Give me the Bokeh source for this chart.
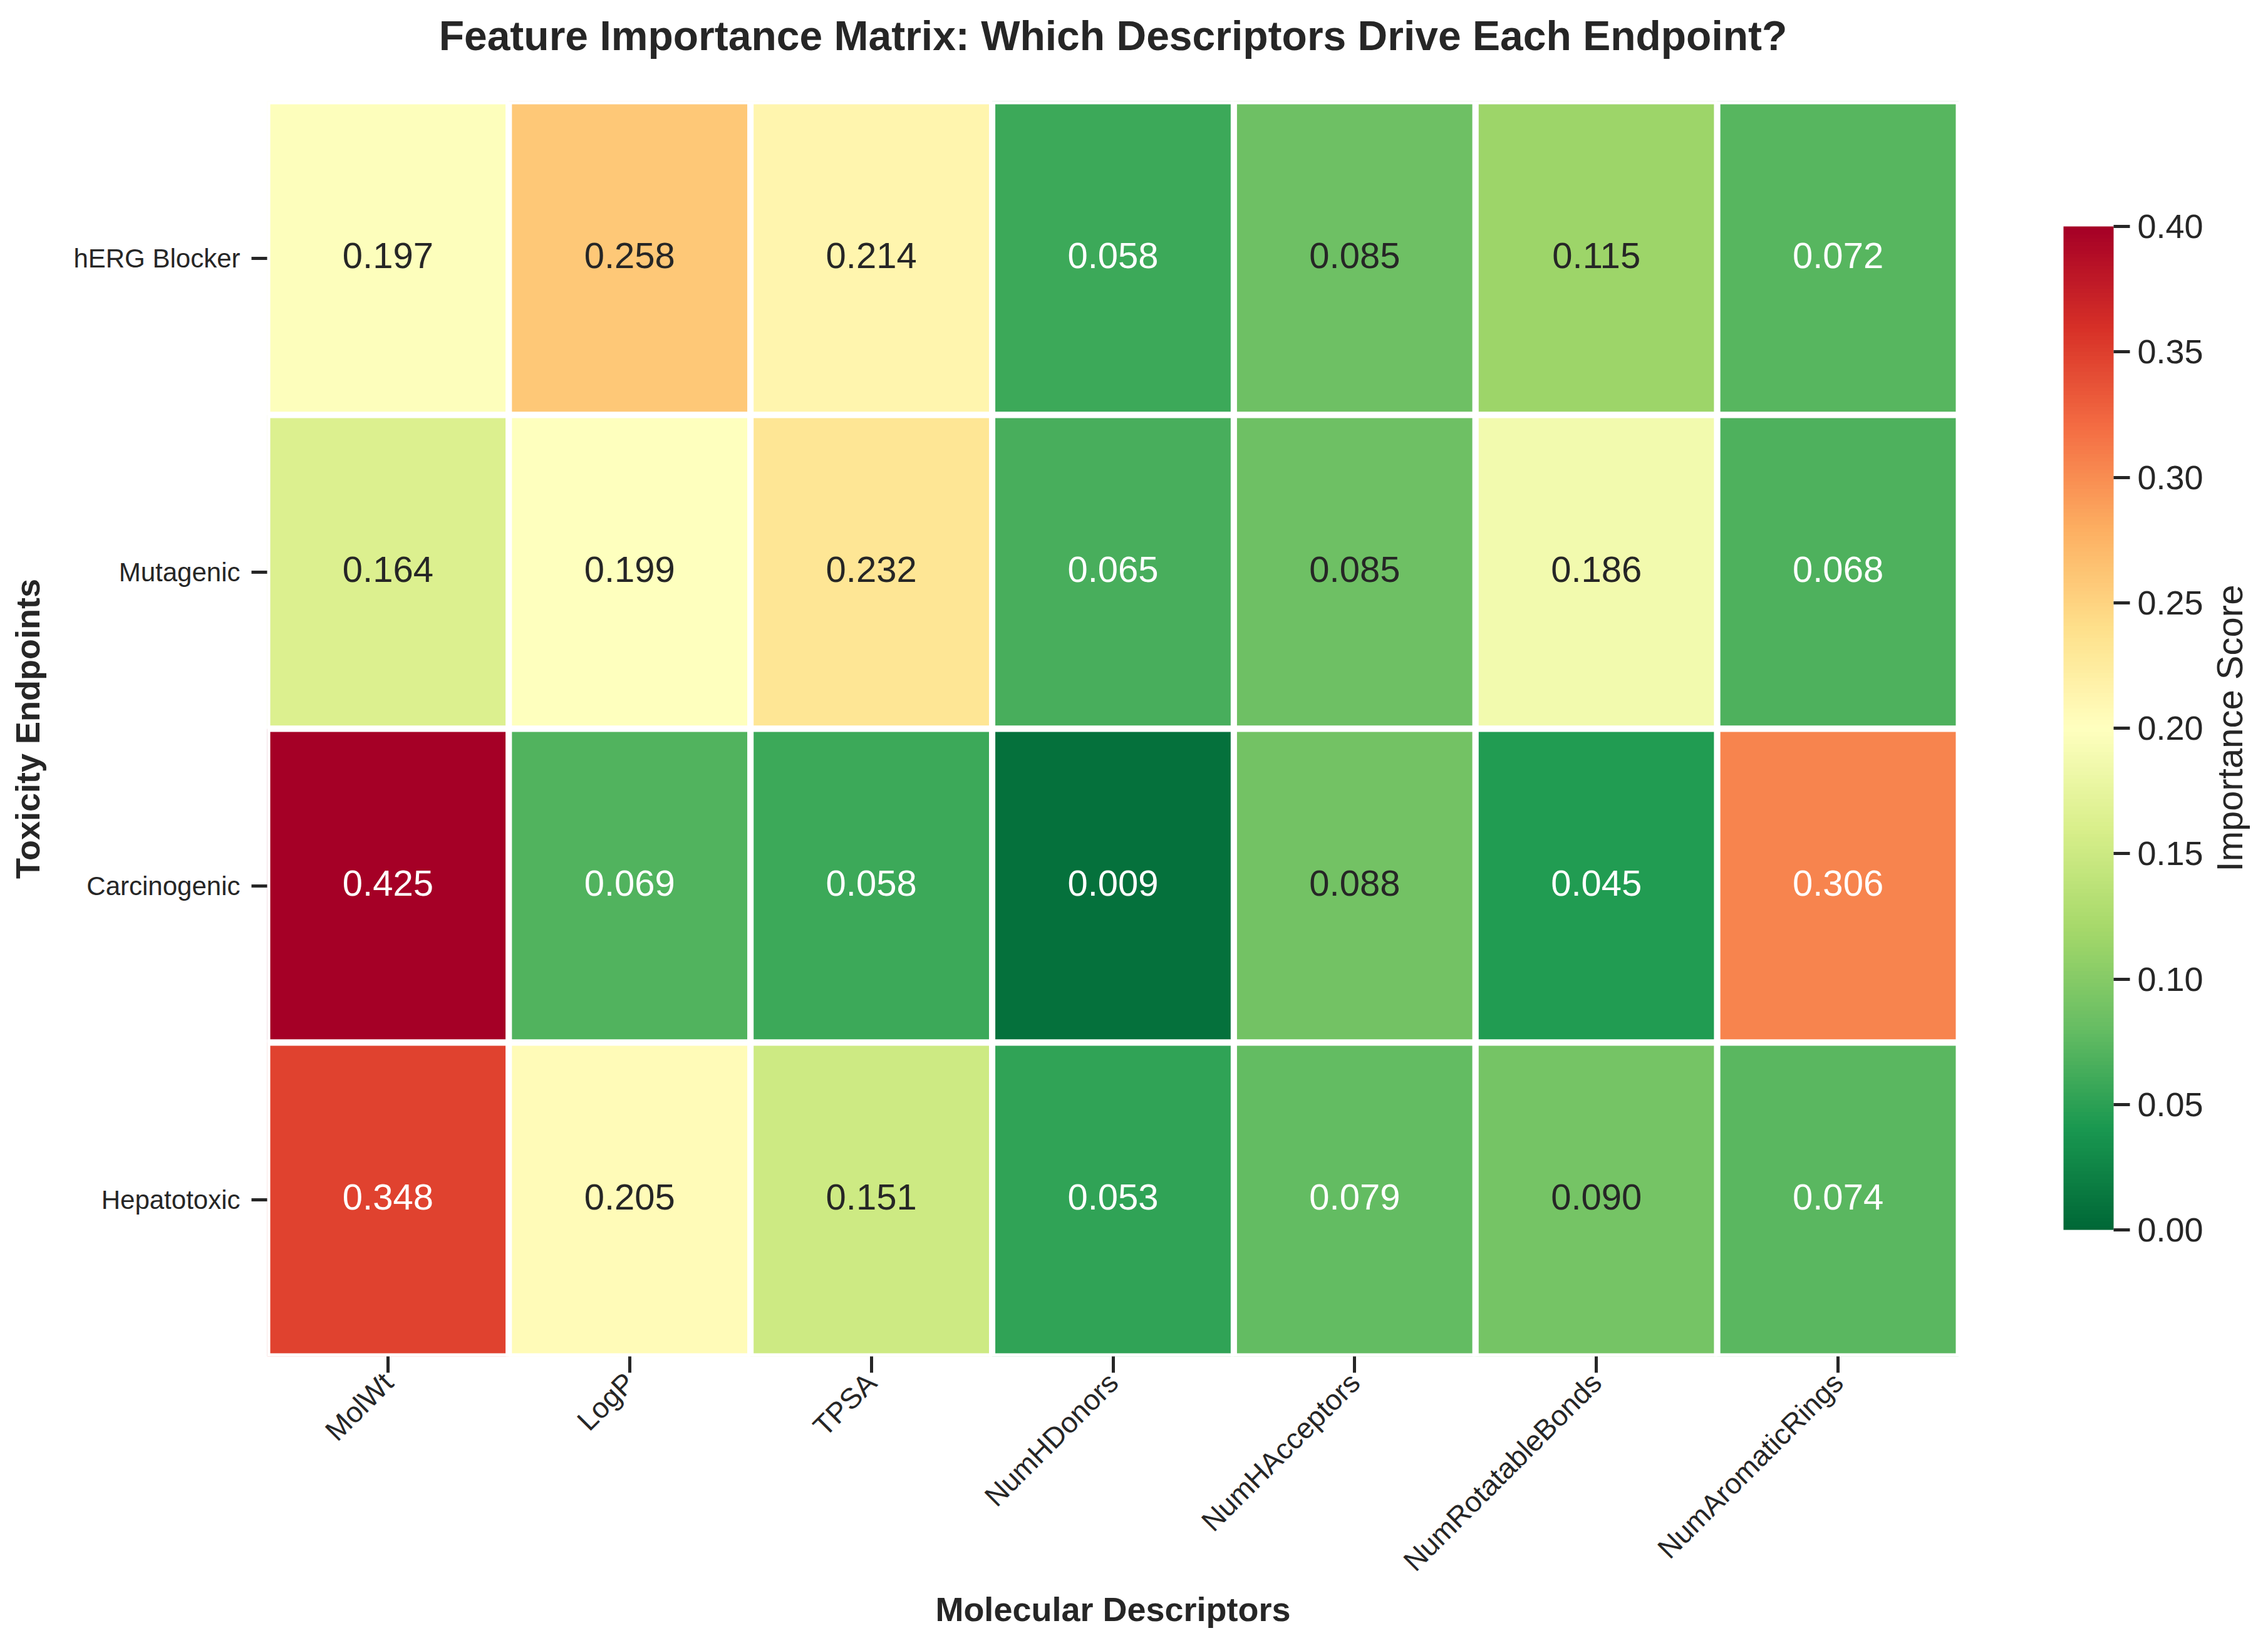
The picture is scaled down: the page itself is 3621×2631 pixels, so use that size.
import math
import numpy as np
from bokeh.plotting import figure
from bokeh.layouts import row
from bokeh.models import (ColumnDataSource, LinearColorMapper, ColorBar, FixedTicker,
                          PrintfTickFormatter, Range1d, Title)
from bokeh.transform import transform
from bokeh.core.properties import value
from bokeh.embed import file_html
from bokeh.resources import INLINE

# ---------------- data ----------------
endpoints = ["hERG Blocker", "Mutagenic", "Carcinogenic", "Hepatotoxic"]
descriptors = ["MolWt", "LogP", "TPSA", "NumHDonors", "NumHAcceptors",
               "NumRotatableBonds", "NumAromaticRings"]
herg_blocker = [0.197, 0.258, 0.214, 0.058, 0.085, 0.115, 0.072]
mutagenic = [0.164, 0.199, 0.232, 0.065, 0.085, 0.186, 0.068]
carcinogenic = [0.425, 0.069, 0.058, 0.009, 0.088, 0.045, 0.306]
hepatotoxic = [0.348, 0.205, 0.151, 0.053, 0.079, 0.090, 0.074]
colorbar_ticks = [0.00, 0.05, 0.10, 0.15, 0.20, 0.25, 0.30, 0.35, 0.40]
vmin, vmax = 0.0, 0.40
colorbar_title = "Importance Score"
main_title = "Feature Importance Matrix: Which Descriptors Drive Each Endpoint?"

rows = [herg_blocker, mutagenic, carcinogenic, hepatotoxic]

# RdYlGn reversed (green -> yellow -> red)
anchors = ["#006837", "#1a9850", "#66bd63", "#a6d96a", "#d9ef8b", "#ffffbf",
           "#fee08b", "#fdae61", "#f46d43", "#d73027", "#a50026"]


def hex2rgb(h):
    return [int(h[i:i + 2], 16) for i in (1, 3, 5)]


anc = np.array([hex2rgb(h) for h in anchors], dtype=float)
N = 256
palette_rgb = []
for i in range(N):
    t = i / (N - 1) * (len(anchors) - 1)
    k = min(int(math.floor(t)), len(anchors) - 2)
    f = t - k
    c = anc[k] * (1 - f) + anc[k + 1] * f
    palette_rgb.append(c)
palette = ["#%02x%02x%02x" % tuple(int(round(v)) for v in c) for c in palette_rgb]


def text_color_for(v):
    idx = int((v - vmin) / (vmax - vmin) * N)
    idx = max(0, min(N - 1, idx))
    rgb = palette_rgb[idx] / 255.0
    lin = np.where(rgb <= 0.03928, rgb / 12.92, ((rgb + 0.055) / 1.055) ** 2.4)
    lum = 0.2126 * lin[0] + 0.7152 * lin[1] + 0.0722 * lin[2]
    return "#262626" if lum > 0.408 else "#ffffff"


xs, ys, vals, labels, tcolors = [], [], [], [], []
for ep, r in zip(endpoints, rows):
    for d, v in zip(descriptors, r):
        xs.append(d)
        ys.append(ep)
        vals.append(v)
        labels.append("%.3f" % v)
        tcolors.append(text_color_for(v))

source = ColumnDataSource(dict(x=xs, y=ys, v=vals, label=labels, tc=tcolors))

FONT = "Liberation Sans"
DARK = "#262626"

W, H = 3621, 2631
FRAME_L, FRAME_R, FRAME_T, FRAME_B = 426, 3127, 161, 2165
W1 = FRAME_R  # main figure ends at the heatmap's right edge
p = figure(x_range=descriptors, y_range=list(reversed(endpoints)),
           width=W1, height=H, output_backend="svg", toolbar_location=None,
           min_border_left=FRAME_L, min_border_right=0,
           min_border_top=FRAME_T, min_border_bottom=H - FRAME_B)
p.background_fill_color = "white"
p.border_fill_color = "white"
p.outline_line_color = None
p.grid.grid_line_color = None

mapper = LinearColorMapper(palette=palette, low=vmin, high=vmax)

p.rect(x="x", y="y", width=1, height=1, source=source,
       fill_color=transform("v", mapper), line_color="white", line_width=10)
p.text(x="x", y="y", text="label", source=source, text_align="center",
       text_baseline="middle", text_font_size="58px", text_color="tc",
       text_font=value(FONT), y_offset=-4)

# real title (outermost) plus a blank spacer title between it and the frame
p.title.text = main_title
p.title.text_font = FONT
p.title.text_font_size = "66px"
p.title.text_font_style = "bold"
p.title.text_color = DARK
p.title.align = "center"
p.title.standoff = 0
p.add_layout(Title(text=" ", text_font_size="10px", standoff=55), "above")

# axes
for ax in (p.xaxis, p.yaxis):
    ax.axis_line_color = None
    ax.major_tick_in = 0
    ax.major_tick_line_color = DARK
    ax.major_tick_line_width = 5
    ax.major_label_text_font = FONT
    ax.major_label_text_color = DARK
    ax.axis_label_text_font = FONT
    ax.axis_label_text_font_style = "bold"
    ax.axis_label_text_font_size = "54px"
    ax.axis_label_text_color = DARK

p.yaxis.axis_label = "Toxicity Endpoints"
p.yaxis.major_tick_out = 25
p.yaxis.major_label_standoff = 18
p.yaxis.major_label_text_font_size = "42px"
p.yaxis.axis_label_standoff = 40

p.xaxis.axis_label = "Molecular Descriptors"
p.xaxis.major_tick_out = 26
p.xaxis.major_label_standoff = 8
p.xaxis.major_label_text_font_size = "46px"
p.xaxis.major_label_orientation = math.pi / 4
p.xaxis.axis_label_standoff = 0

# ---- colour bar figure on the right (its frame aligns with the heatmap's) ----
W2 = W - W1
FH = FRAME_B - FRAME_T
p2 = figure(width=W2, height=H, output_backend="svg", toolbar_location=None,
            x_range=Range1d(0, W2), y_range=Range1d(0, FH),
            x_axis_location=None, y_axis_location=None,
            min_border_left=0, min_border_right=0,
            min_border_top=FRAME_T, min_border_bottom=H - FRAME_B)
p2.outline_line_color = None
p2.grid.grid_line_color = None
p2.background_fill_color = "white"
p2.border_fill_color = "white"

cb = ColorBar(color_mapper=mapper, ticker=FixedTicker(ticks=colorbar_ticks),
              formatter=PrintfTickFormatter(format="%.2f"),
              width=80, height=1602, padding=0, margin=0,
              location=(3294 - W1, FRAME_B - 1963),
              major_tick_in=0, major_tick_out=26,
              major_tick_line_color=DARK, major_tick_line_width=5,
              minor_tick_line_color=None,
              major_label_text_font=FONT, major_label_text_font_size="54px",
              major_label_text_color=DARK, label_standoff=12,
              bar_line_color=None, border_line_color=None,
              background_fill_color=None)
p2.add_layout(cb)

p2.text(x=[3559 - W1], y=[FRAME_B - 1162], text=[colorbar_title], angle=math.pi / 2,
        text_align="center", text_baseline="middle", text_font=value(FONT),
        text_font_size="58px", text_color=DARK)

layout = row(p, p2, spacing=0)
open("out.html", "w").write(file_html(layout, INLINE))
